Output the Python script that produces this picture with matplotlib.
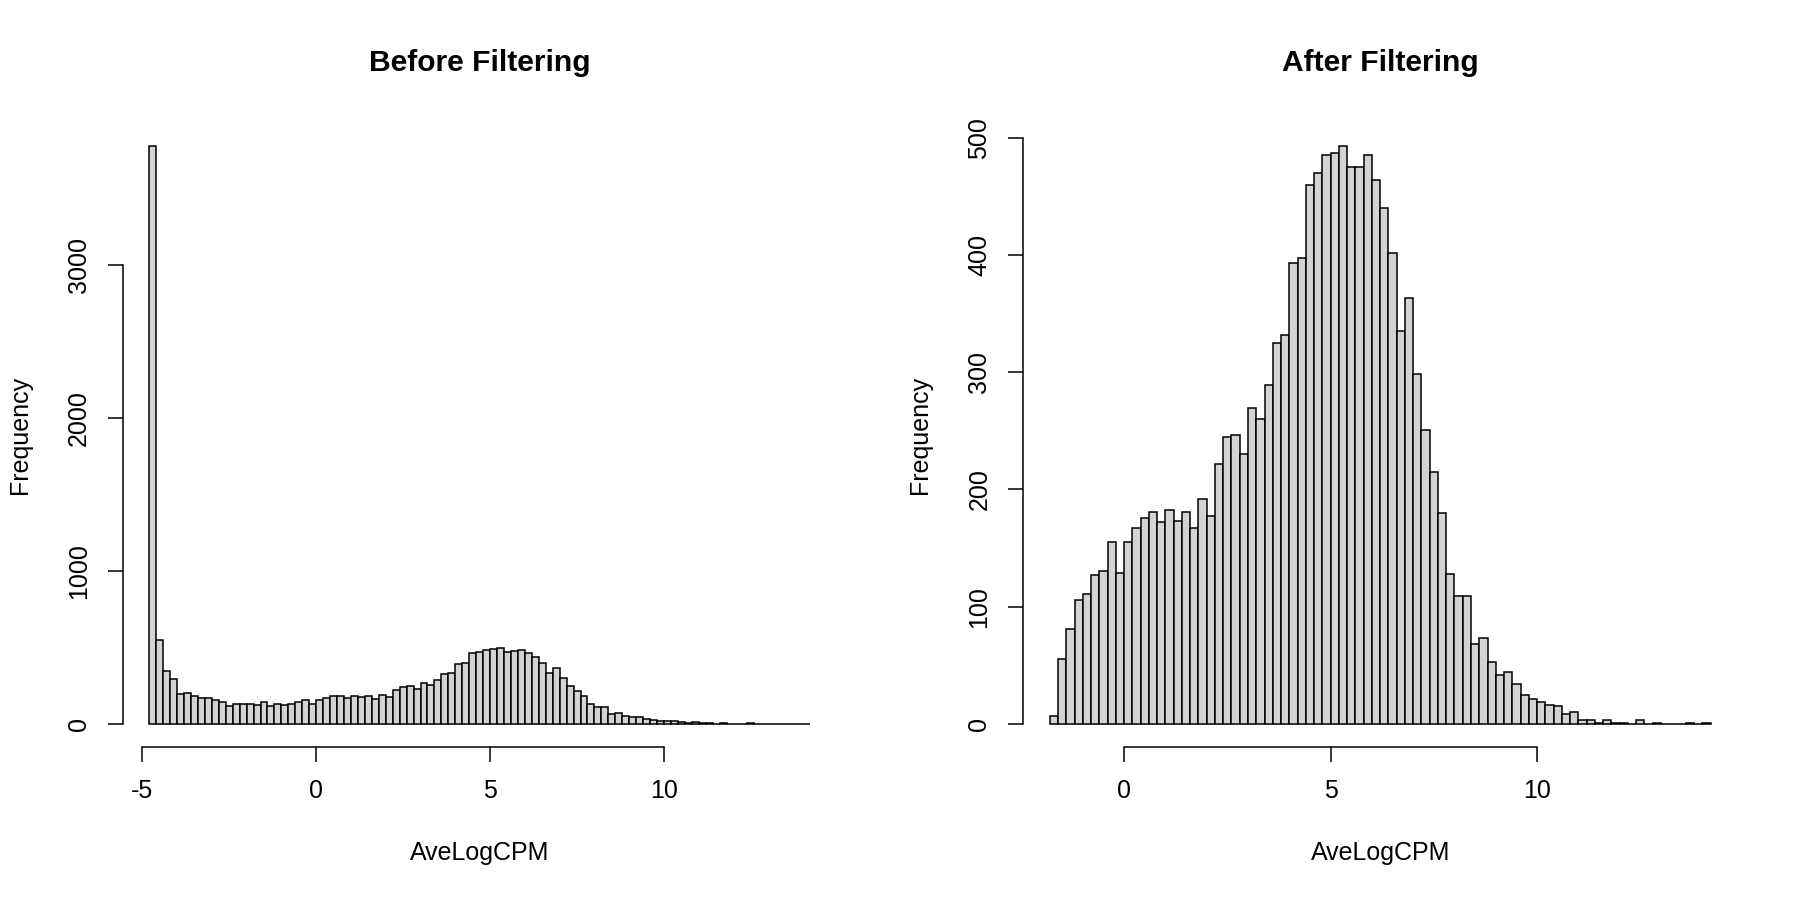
import numpy as np
import matplotlib.pyplot as plt

plt.rcParams['font.family'] = ['Liberation Sans', 'DejaVu Sans']
plt.rcParams['axes.unicode_minus'] = False

# --- histogram data (bin width 0.2) ---
BIN_W = 0.2
before_start = -4.8
before_counts = [3781, 547, 344, 296, 194, 203, 183, 168, 168, 155,
                 142, 120, 129, 129, 133, 122, 142, 116, 129, 122,
                 133, 140, 155, 131, 153, 166, 181, 181, 172, 183,
                 174, 185, 161, 190, 174, 220, 244, 246, 227, 268,
                 257, 290, 325, 334, 390, 397, 462, 471, 484, 488,
                 497, 469, 477, 484, 462, 438, 401, 334, 364, 299,
                 251, 214, 181, 129, 109, 109, 65, 74, 52, 44,
                 44, 33, 26, 22, 20, 17, 15, 8, 10, 3,
                 3, 1, 3, 1, 1, 0, 3, 0, 1, 0,
                 0, 0, 1, 0, 1]

after_start = -1.8
after_counts = [7, 55, 81, 106, 111, 127, 130, 155, 129, 155,
                167, 176, 181, 172, 182, 173, 181, 167, 192, 177,
                222, 245, 246, 230, 269, 260, 289, 325, 332, 393,
                397, 460, 470, 485, 487, 493, 475, 475, 485, 464,
                440, 402, 335, 363, 298, 251, 215, 180, 128, 109,
                109, 68, 73, 53, 42, 44, 34, 25, 21, 19,
                16, 15, 8, 10, 3, 3, 1, 3, 1, 1,
                0, 3, 0, 1, 0, 0, 0, 1, 0, 1]

titles = ['Before Filtering', 'After Filtering']
xticks = [[-5, 0, 5, 10], [0, 5, 10]]
yticks = [[0, 1000, 2000, 3000], [0, 100, 200, 300, 400, 500]]

W, H = 1800, 900
fig = plt.figure(figsize=(18, 9), dpi=100)

panels = [(before_start, before_counts, 122.8), (after_start, after_counts, 1023.3)]
ax_w = 713.7
ax_top, ax_bot = 122.7, 747.0

for i, (start, counts, left_px) in enumerate(panels):
    counts = np.array(counts)
    edges = start + BIN_W * np.arange(len(counts) + 1)
    ax = fig.add_axes([left_px / W, 1 - ax_bot / H, ax_w / W, (ax_bot - ax_top) / H])
    ax.bar(edges[:-1], counts, width=BIN_W, align='edge',
           color='#d3d3d3', edgecolor='black', linewidth=1.1)
    span = edges[-1] - edges[0]
    ax.set_xlim(edges[0] - 0.04 * span, edges[-1] + 0.04 * span)
    ymax = counts.max()
    ax.set_ylim(-0.04 * ymax, 1.04 * ymax)

    for s in ['top', 'right']:
        ax.spines[s].set_visible(False)
    ax.spines['left'].set_bounds(yticks[i][0], yticks[i][-1])
    ax.spines['bottom'].set_bounds(xticks[i][0], xticks[i][-1])
    for s in ['left', 'bottom']:
        ax.spines[s].set_linewidth(1.1)
    ax.set_xticks(xticks[i])
    ax.set_yticks(yticks[i])
    ax.set_yticklabels([str(v) for v in yticks[i]], rotation=90, va='center')
    ax.tick_params(length=11, width=1.1, labelsize=18, pad=12)

    cx = (left_px + ax_w / 2) / W
    fig.text(cx, 1 - 63 / H, titles[i], ha='center', va='center',
             fontsize=21.6, fontweight='bold')
    fig.text(cx, 1 - 853 / H, 'AveLogCPM', ha='center', va='center', fontsize=18)
    fig.text((left_px - 103.3) / W, 1 - (ax_top + ax_bot) / 2 / H, 'Frequency',
             ha='center', va='center', rotation=90, fontsize=18)

fig.savefig('out.png', dpi=100)
